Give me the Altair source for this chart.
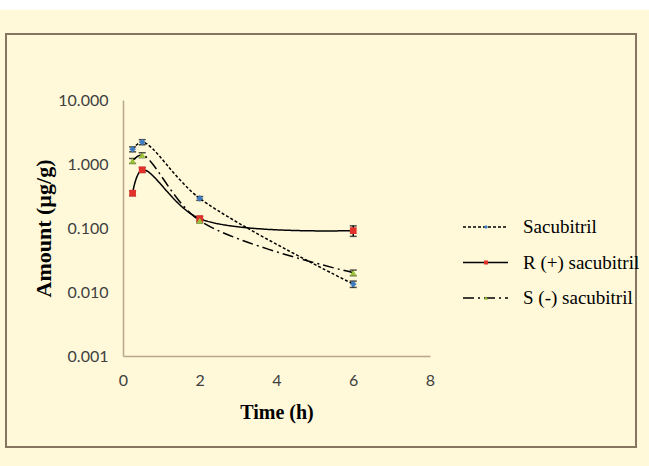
import altair as alt
import pandas as pd

series_names = ["Sacubitril", "R (+) sacubitril", "S (-) sacubitril"]
time_h = [0.25, 0.5, 2, 6]
sacubitril = [1.70, 2.20, 0.29, 0.0133]
r_sacubitril = [0.35, 0.81, 0.14, 0.091]
s_sacubitril = [1.12, 1.38, 0.13, 0.020]
sacubitril_err = [0.15, 0.20, 0.02, 0.0015]
r_sacubitril_err = [0.03, 0.07, 0.012, 0.017]
s_sacubitril_err = [0.10, 0.12, 0.01, 0.002]

x_ticks = [0, 2, 4, 6, 8]
y_ticks = [0.001, 0.01, 0.1, 1, 10]

rows = []
for name, vals, errs in [(series_names[0], sacubitril, sacubitril_err),
                         (series_names[1], r_sacubitril, r_sacubitril_err),
                         (series_names[2], s_sacubitril, s_sacubitril_err)]:
    for t, v, e in zip(time_h, vals, errs):
        rows.append({"series": name, "time": t, "amount": v, "lo": v - e, "hi": v + e})
df = pd.DataFrame(rows)
legend_df = pd.DataFrame({"series": series_names})

dash_scale = alt.Scale(domain=series_names, range=[[3, 2], [1, 0], [11, 4, 2, 4]])
shape_scale = alt.Scale(domain=series_names, range=["diamond", "square", "triangle-up"])
color_scale = alt.Scale(domain=series_names, range=["#3F7CC0", "#E2302B", "#9CC13B"])

X = alt.X("time:Q", scale=alt.Scale(domain=[0, 8], nice=False),
          axis=alt.Axis(values=x_ticks, title="Time (h)", format="d", labelPadding=16,
                        labelFlush=False, titleY=56, titleBaseline="middle", zindex=1))
Y = alt.Y("amount:Q", scale=alt.Scale(type="log", domain=[0.001, 10], nice=False),
          axis=alt.Axis(values=y_ticks, format=".3f", title="Amount (µg/g)", labelPadding=15,
                        labelFlush=False, titleX=-80, titleY=128, titleAngle=270,
                        titleAlign="center", titleBaseline="middle", titleFontSize=22,
                        zindex=1))

bg = alt.Chart(legend_df).mark_rect(fill="#FFF9DA").encode(
    x=alt.value(-123), x2=alt.value(526), y=alt.value(-90), y2=alt.value(366))
frame = alt.Chart(legend_df).mark_rect(fill="#FFF9DA", stroke="#857661", strokeWidth=2).encode(
    x=alt.value(-117), x2=alt.value(513), y=alt.value(-66), y2=alt.value(347))

base = alt.Chart(df)
lines = base.mark_line(color="black", strokeWidth=1.5, interpolate="catmull-rom").encode(
    x=X, y=Y,
    strokeDash=alt.StrokeDash("series:N", scale=dash_scale, legend=None),
    detail="series:N")
err = base.mark_rule(color="black", strokeWidth=1.5).encode(
    x="time:Q", y="lo:Q", y2="hi:Q")
cap_lo = base.mark_tick(color="black", orient="horizontal", size=7, thickness=1.5).encode(
    x="time:Q", y="lo:Q")
cap_hi = base.mark_tick(color="black", orient="horizontal", size=7, thickness=1.5).encode(
    x="time:Q", y="hi:Q")
pts = base.mark_point(filled=True, opacity=1, size=45).encode(
    x="time:Q", y="amount:Q",
    shape=alt.Shape("series:N", scale=shape_scale, legend=None),
    color=alt.Color("series:N", scale=color_scale, legend=None))

LY = alt.Y("series:N", sort=series_names, scale=alt.Scale(type="point", range=[127, 198], padding=0), axis=None)
leg_base = alt.Chart(legend_df)
leg_line = leg_base.mark_rule(color="black", strokeWidth=1.5).encode(
    x=alt.value(340), x2=alt.value(385), y=LY,
    strokeDash=alt.StrokeDash("series:N", scale=dash_scale, legend=None))
leg_pt = leg_base.mark_point(filled=True, opacity=1, size=16).encode(
    x=alt.value(363), y=LY,
    shape=alt.Shape("series:N", scale=shape_scale, legend=None),
    color=alt.Color("series:N", scale=color_scale, legend=None))
leg_txt = leg_base.mark_text(align="left", baseline="middle", font="Liberation Serif",
                             fontSize=19, color="black").encode(
    x=alt.value(400), y=LY, text="series:N")
legend = alt.layer(leg_line, leg_pt, leg_txt)

main = alt.layer(lines, err, cap_lo, cap_hi, pts)

chart = alt.layer(bg, frame, main, legend).resolve_scale(y="independent").properties(
    width=307, height=256, autosize="none",
    padding={"left": 123, "top": 100, "right": 219, "bottom": 110},
    background="white"
).configure_view(stroke=None).configure_axis(
    grid=False, ticks=False, domainColor="#B8A78F", domainWidth=1.5,
    labelFont="Lato", labelFontSize=16, labelColor="#404040",
    titleFont="Liberation Serif", titleFontSize=20, titleFontWeight="bold", titleColor="black"
)

chart.save("out.html", embed_options={"renderer": "svg", "actions": False})
